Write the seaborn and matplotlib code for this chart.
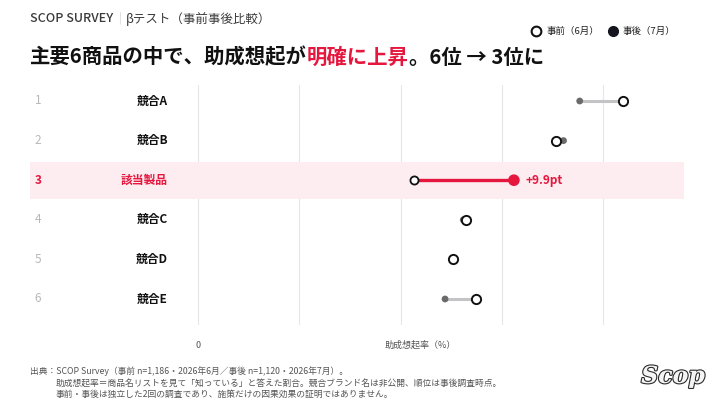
import seaborn as sns
import pandas as pd
import matplotlib.pyplot as plt
import matplotlib.patheffects as pe
from matplotlib.transforms import blended_transform_factory

ranks = [1, 2, 3, 4, 5, 6]
products = ['競合A', '競合B', '該当製品', '競合C', '競合D', '競合E']
before = [42.0, 35.4, 21.3, 26.5, 25.2, 27.5]   # 事前（6月）
after = [37.7, 36.1, 31.2, 26.2, 25.1, 24.4]    # 事後（7月）
grid_ticks = [0, 10, 20, 30, 40]
target = '該当製品'

RED = '#e5173f'
W, H = 720, 405

sns.set_theme(style='white')
plt.rcParams['font.family'] = ['Noto Sans CJK JP', 'DejaVu Sans']

df = pd.DataFrame({'rank': ranks, 'product': products, 'before': before, 'after': after})
df['y'] = range(len(df))
df['is_target'] = df['product'] == target

fig = plt.figure(figsize=(7.2, 4.05), dpi=100)
fig.patch.set_facecolor('white')

# axes span px 30..684 horizontally, 85..325 vertically
ax = fig.add_axes([30 / W, 1 - 325 / H, (684 - 30) / W, 240 / H])
ppu = 10.125
ax.set_xlim(-168 / ppu, (684 - 198) / ppu)
ax.set_ylim((325 - 101) / 39.6, -16 / 39.6)
ax.axis('off')

for g in grid_ticks:
    ax.axvline(g, color='#e6e6e6', lw=0.8, zorder=0)

ax.axhspan(2 - 0.47, 2 + 0.47, color='#fdedf0', zorder=0.5, lw=0)

# connecting lines
for _, r in df.iterrows():
    ax.plot([r['before'], r['after']], [r['y'], r['y']],
            color=RED if r['is_target'] else '#c4c4c6',
            lw=2.4 if r['is_target'] else 2.2, solid_capstyle='butt', zorder=2)

others = df[~df['is_target']]
tgt = df[df['is_target']]

sns.scatterplot(data=others, x='after', y='y', ax=ax, color='#6a6a6a', s=24,
                edgecolor='none', zorder=3, legend=False)
sns.scatterplot(data=tgt, x='after', y='y', ax=ax, color=RED, s=70,
                edgecolor='none', zorder=3, legend=False)
sns.scatterplot(data=others, x='before', y='y', ax=ax, color='white', s=44,
                edgecolor='#111111', linewidth=1.4, zorder=4, legend=False)
sns.scatterplot(data=tgt, x='before', y='y', ax=ax, color='white', s=34,
                edgecolor='#111111', linewidth=1.3, zorder=4, legend=False)

trans = blended_transform_factory(fig.transFigure, ax.transData)
for _, r in df.iterrows():
    hot = r['is_target']
    ax.text(38 / W, r['y'], str(r['rank']), transform=trans, ha='center', va='center',
            fontsize=8.5, color=RED if hot else '#b8b8bc', fontweight='bold' if hot else 'normal')
    ax.text(168 / W, r['y'], r['product'], transform=trans, ha='right', va='center',
            fontsize=8.5, color=RED if hot else '#111111', fontweight='bold')

t = tgt.iloc[0]
ax.text(t['after'] + 1.1, t['y'], f"+{t['after'] - t['before']:.1f}pt", ha='left', va='center',
        fontsize=8.5, color=RED, fontweight='bold')

# axis texts
fig.text(198 / W, 1 - 345 / H, '0', ha='center', va='center', fontsize=6.5, color='#555555')
fig.text(420 / W, 1 - 345 / H, '助成想起率（%）', ha='center', va='center', fontsize=6.5, color='#555555')

renderer = fig.canvas.get_renderer()

# header line
x0 = 30 / W
for part, col, wt in [('SCOP SURVEY', '#3a3a3a', 'medium'), ('｜', '#c8c8c8', 'normal'),
                      ('βテスト（事前事後比較）', '#3a3a3a', 'normal')]:
    txt = fig.text(x0, 1 - 19 / H, part, ha='left', va='center', fontsize=9,
                   color=col, fontweight=wt)
    x0 += txt.get_window_extent(renderer=renderer).width / W

# title with highlighted words
x0 = 30 / W
for part, col in [('主要6商品の中で、助成想起が', '#111111'), ('明確に上昇', RED), ('。6位 → 3位に', '#111111')]:
    txt = fig.text(x0, 1 - 57 / H, part, ha='left', va='center', fontsize=14.7,
                   fontweight='bold', color=col)
    x0 += txt.get_window_extent(renderer=renderer).width / W

# legend
fig.add_artist(plt.Line2D([536 / W], [1 - 31 / H], marker='o', ms=7, mfc='white', mec='#111111',
                          mew=1.5, transform=fig.transFigure))
fig.text(547 / W, 1 - 31 / H, '事前（6月）', ha='left', va='center', fontsize=6.8, color='#222222')
fig.add_artist(plt.Line2D([613 / W], [1 - 31 / H], marker='o', ms=7, mfc='#15151f', mec='#15151f',
                          transform=fig.transFigure))
fig.text(623 / W, 1 - 31 / H, '事後（7月）', ha='left', va='center', fontsize=6.8, color='#222222')

# footnote
notes = [
    (30, 371, '出典：SCOP Survey（事前 n=1,186・2026年6月／事後 n=1,120・2026年7月）。'),
    (56, 383, '助成想起率＝商品名リストを見て「知っている」と答えた割合。競合ブランド名は非公開、順位は事後調査時点。'),
    (56, 394, '事前・事後は独立した2回の調査であり、施策だけの因果効果の証明ではありません。'),
]
for x, y, s in notes:
    fig.text(x / W, 1 - y / H, s, ha='left', va='center', fontsize=6.3, color='#555555')

# logo
fig.text(673 / W, 1 - 376 / H, 'Scop', ha='center', va='center', fontsize=17, color='#f4f4f4',
         family='DejaVu Serif', fontstyle='italic', fontweight='bold',
         path_effects=[pe.withStroke(linewidth=1.6, foreground='#2a2a2a')])

fig.savefig('out.png', dpi=100, facecolor='white')
